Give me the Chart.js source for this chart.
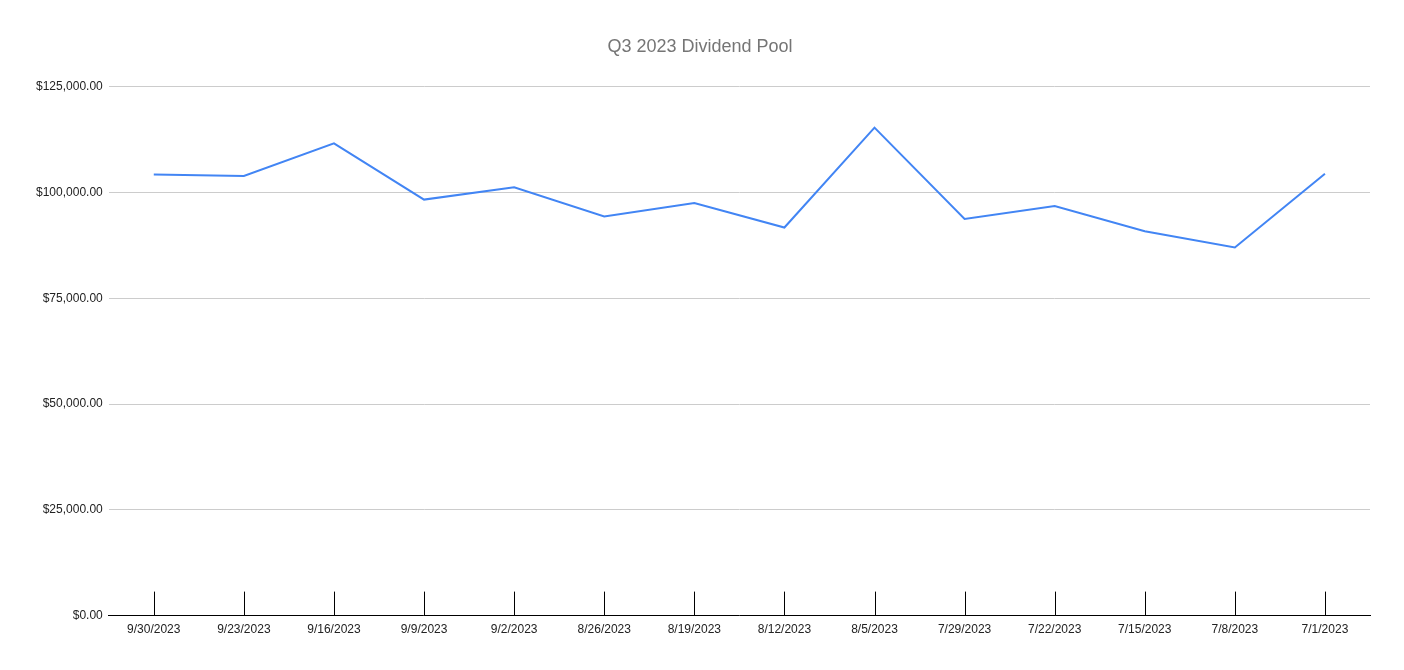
<!DOCTYPE html>
<html>
<head>
<meta charset="utf-8">
<script src="https://cdn.jsdelivr.net/npm/chart.js@4/dist/chart.umd.min.js"></script>
<style>
  html, body { margin: 0; padding: 0; background: #fff; }
  #wrap { width: 1404px; height: 670px; }
</style>
</head>
<body>
<div id="wrap"><canvas id="grafico"></canvas></div>
<script>
const semanas = ["9/30/2023", "9/23/2023", "9/16/2023", "9/9/2023", "9/2/2023", "8/26/2023", "8/19/2023",
  "8/12/2023", "8/5/2023", "7/29/2023", "7/22/2023", "7/15/2023", "7/8/2023", "7/1/2023"];
const pool = [104250, 103900, 111600, 98300, 101200, 94300, 97500,
  91700, 115300, 93700, 96800, 90800, 87000, 104400];
const yTicks = [0, 25000, 50000, 75000, 100000, 125000];

const fonte = "'Liberation Sans', Arial, sans-serif";

// marcas verticais do eixo x, desenhadas para cima a partir da linha do eixo
const marcasX = {
  id: "marcasX",
  afterDatasetsDraw(chart) {
    const ctx = chart.ctx;
    const x = chart.scales.x;
    const base = chart.chartArea.bottom;
    ctx.save();
    ctx.strokeStyle = "#000";
    ctx.lineWidth = 1;
    ctx.beginPath();
    for (let i = 0; i < semanas.length; i++) {
      const px = Math.round(x.getPixelForTick(i)) + 0.5;
      ctx.moveTo(px, base - 24);
      ctx.lineTo(px, base);
    }
    ctx.stroke();
    ctx.restore();
  }
};

new Chart(document.getElementById("grafico"), {
  type: "line",
  data: {
    labels: semanas,
    datasets: [{
      label: "Dividend Pool",
      data: pool,
      borderColor: "#4285F4",
      borderWidth: 2,
      pointRadius: 0,
      tension: 0
    }]
  },
  options: {
    responsive: true,
    maintainAspectRatio: false,
    animation: false,
    layout: { padding: { left: 30, right: 34, top: 0, bottom: 26 } },
    plugins: {
      legend: { display: false },
      tooltip: { enabled: false },
      title: {
        display: true,
        text: "Q3 2023 Dividend Pool",
        color: "#757575",
        font: { family: fonte, size: 18, weight: "normal" },
        padding: { top: 36, bottom: 29 }
      }
    },
    scales: {
      x: {
        offset: true,
        grid: { display: false, drawTicks: false },
        border: { display: true, color: "#000", width: 1 },
        ticks: {
          color: "#222",
          font: { family: fonte, size: 12 },
          padding: 7,
          maxRotation: 0,
          autoSkip: false
        }
      },
      y: {
        min: 0,
        max: 125000,
        afterBuildTicks(scale) {
          scale.ticks = yTicks.map(v => ({ value: v }));
        },
        grid: { color: "#cccccc", drawTicks: false },
        border: { display: false },
        ticks: {
          color: "#222",
          font: { family: fonte, size: 12 },
          padding: 6,
          callback: v => "$" + Number(v).toLocaleString("en-US", { minimumFractionDigits: 2, maximumFractionDigits: 2 })
        }
      }
    }
  },
  plugins: [marcasX]
});
</script>
</body>
</html>
